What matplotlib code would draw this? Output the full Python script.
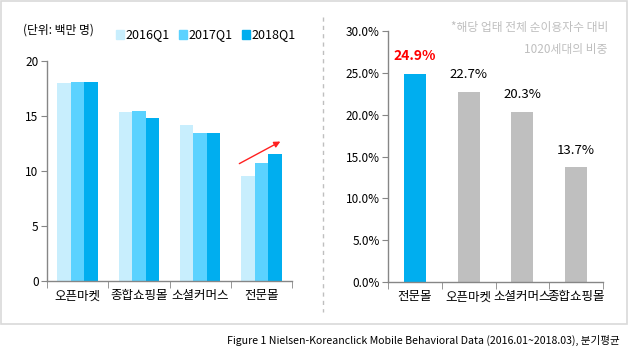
import numpy as np
import matplotlib
matplotlib.use("Agg")
import matplotlib.pyplot as plt
from matplotlib.patches import Rectangle
from matplotlib.lines import Line2D

plt.rcParams['font.family'] = ['Noto Sans CJK KR', 'DejaVu Sans']

# left chart: users by channel (million)
categories = ['오픈마켓', '종합쇼핑몰', '소셜커머스', '전문몰']
series_names = ['2016Q1', '2017Q1', '2018Q1']
users_2016 = [18.0, 15.35, 14.2, 9.55]
users_2017 = [18.1, 15.45, 13.45, 10.7]
users_2018 = [18.1, 14.8, 13.45, 11.55]
left_ticks = [0, 5, 10, 15, 20]

# right chart: 1020 share per channel
share_cats = ['전문몰', '오픈마켓', '소셜커머스', '종합쇼핑몰']
share_vals = [24.9, 22.7, 20.3, 13.7]
share_ticks = [0, 5, 10, 15, 20, 25, 30]

C16, C17, C18 = '#C8EEFD', '#5BD2FF', '#00AEEF'
GRAY = '#BFBFBF'
AX = '#868686'

W, H = 630, 355
fig = plt.figure(figsize=(W / 100, H / 100), dpi=100)

def box(x0, y0, x1, y1):
    # pixel coords (top-left origin) -> figure fraction
    return [x0 / W, 1 - y1 / H, (x1 - x0) / W, (y1 - y0) / H]

def style(ax):
    for s in ['top', 'right']:
        ax.spines[s].set_visible(False)
    for s in ['left', 'bottom']:
        ax.spines[s].set_color(AX)
        ax.spines[s].set_linewidth(1.0)
    ax.tick_params(axis='y', length=4, color=AX, labelsize=8.5, pad=2)
    ax.tick_params(axis='x', which='major', length=0, labelsize=9, pad=6)
    ax.tick_params(axis='x', which='minor', length=5, color=AX, direction='out')

# ---- left
ax1 = fig.add_axes(box(47, 61, 292, 281))
x = np.arange(len(categories))
bw = 0.22
for i, (vals, c) in enumerate(zip([users_2016, users_2017, users_2018], [C16, C17, C18])):
    ax1.bar(x + (i - 1) * bw, vals, bw, color=c, label=series_names[i])
ax1.set_xlim(-0.5, 3.5)
ax1.set_ylim(0, 20)
ax1.set_yticks(left_ticks)
ax1.set_xticks(x)
ax1.set_xticklabels(categories)
ax1.set_xticks(np.arange(-0.5, 4.0, 1.0), minor=True)
style(ax1)
ax1.annotate('', xy=(3.35, 12.8), xytext=(2.6, 10.55),
             arrowprops=dict(arrowstyle='-|>', color='#FF2020', lw=1.0,
                             mutation_scale=9))

fig.text(23 / W, 1 - 30 / H, '(단위: 백만 명)', fontsize=8.5, va='center')
# legend
for i, (n, c) in enumerate(zip(series_names, [C16, C17, C18])):
    lx = 116 + i * 63
    fig.patches.append(Rectangle((lx / W, 1 - 39 / H), 8 / W, 9 / H,
                                 transform=fig.transFigure, color=c))
    fig.text((lx + 9) / W, 1 - 34.5 / H, n, fontsize=9, va='center')

# ---- right
ax2 = fig.add_axes(box(388, 31, 603, 282))
x2 = np.arange(len(share_cats))
colors = [C18] + [GRAY] * (len(share_vals) - 1)
ax2.bar(x2, share_vals, 0.41, color=colors)
ax2.set_xlim(-0.5, 3.5)
ax2.set_ylim(0, 30)
ax2.set_yticks(share_ticks)
ax2.set_yticklabels([f'{t:.1f}%' for t in share_ticks])
ax2.set_xticks(x2)
ax2.set_xticklabels(share_cats)
ax2.set_xticks(np.arange(-0.5, 4.0, 1.0), minor=True)
style(ax2)
for i, v in enumerate(share_vals):
    if i == 0:
        ax2.text(i, v + 1.3, f'{v:.1f}%', ha='center', va='bottom',
                 color='#FF0000', fontsize=10, fontweight='bold')
    else:
        ax2.text(i, v + 1.3, f'{v:.1f}%', ha='center', va='bottom',
                 color='black', fontsize=9.5)

fig.text(608 / W, 1 - 28 / H, '*해당 업태 전체 순이용자수 대비', fontsize=8.5,
         color='#BFBFBF', ha='right', va='center')
fig.text(608 / W, 1 - 49 / H, '1020세대의 비중', fontsize=8.5,
         color='#BFBFBF', ha='right', va='center')

# frame + divider
fig.patches.append(Rectangle((1 / W, 1 - 324 / H), 626 / W, 323 / H,
                             transform=fig.transFigure, fill=False,
                             edgecolor='#D9D9D9', lw=1.2))
fig.lines.append(Line2D([323 / W, 323 / W], [1 - 17 / H, 1 - 312 / H],
                        transform=fig.transFigure, color='#BFBFBF',
                        lw=1.0, linestyle=(0, (3, 3))))

fig.text(620 / W, 1 - 340 / H,
         'Figure 1 Nielsen-Koreanclick Mobile Behavioral Data (2016.01~2018.03), 분기평균',
         fontsize=7.6, ha='right', va='center')

fig.savefig('out.png', dpi=100)
